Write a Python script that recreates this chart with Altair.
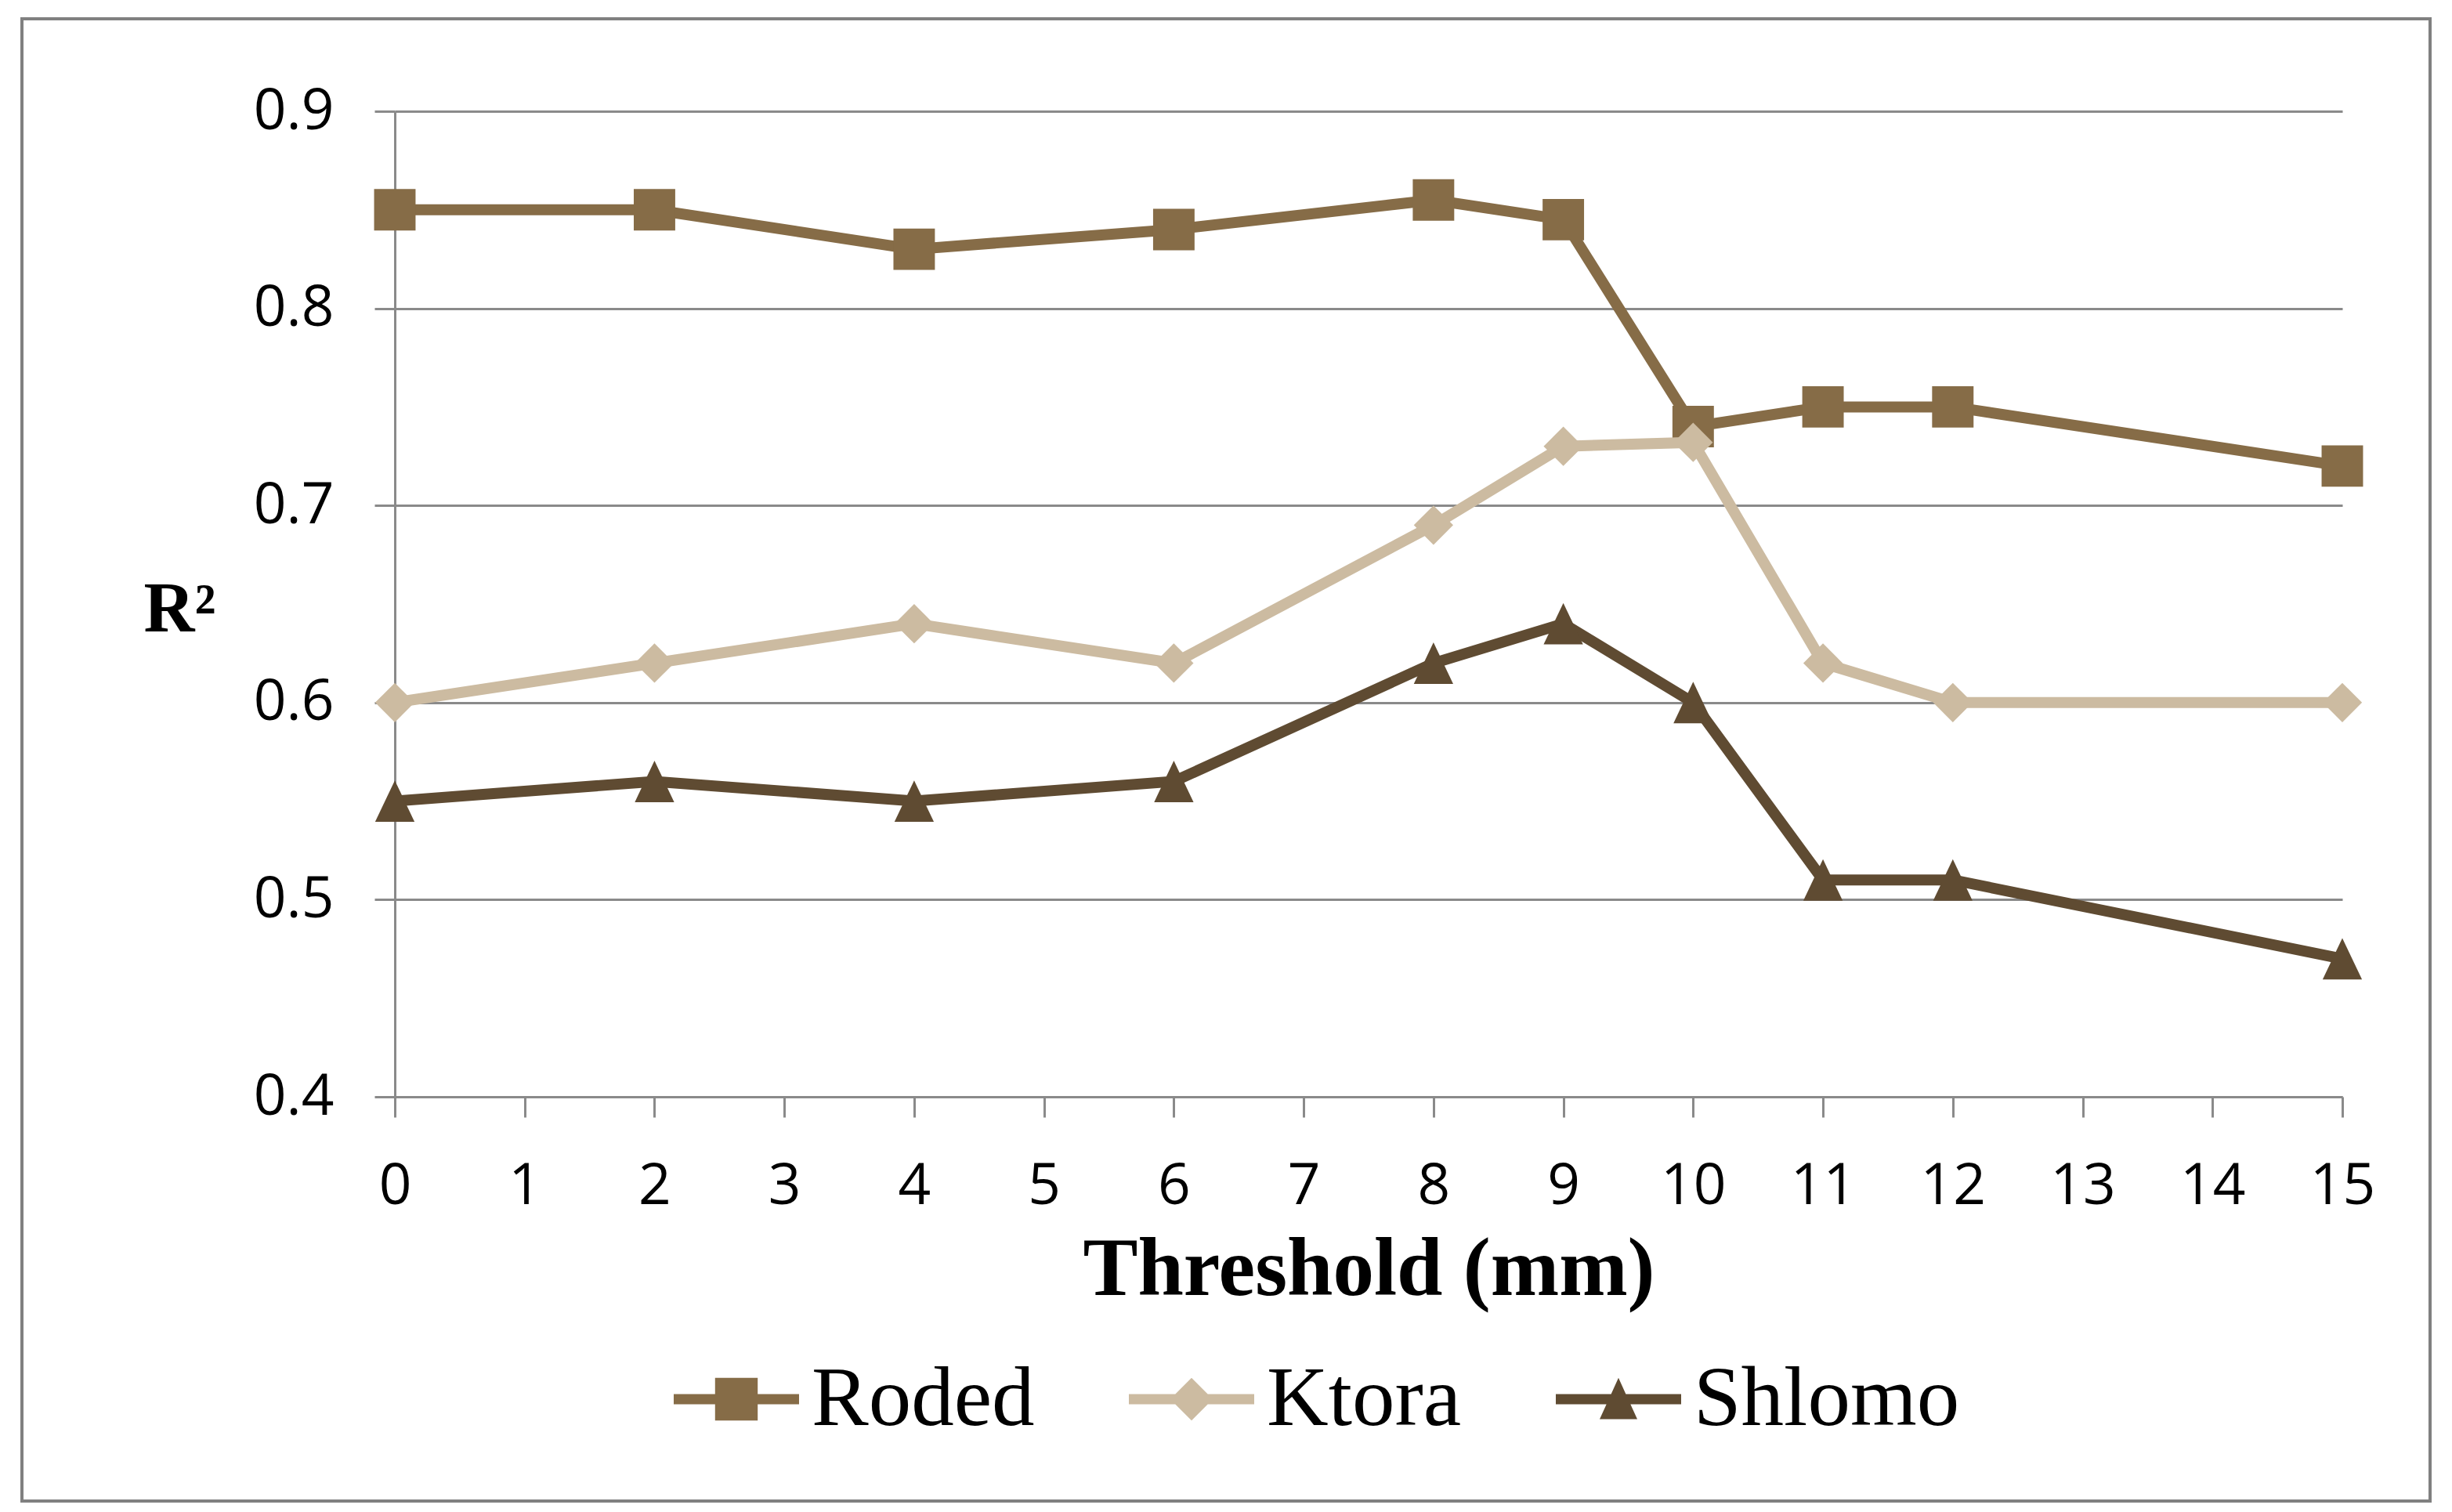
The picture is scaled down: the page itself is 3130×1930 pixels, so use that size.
import altair as alt
import pandas as pd

# ---- data ----
thresholds = [0, 2, 4, 6, 8, 9, 10, 11, 12, 15]
series_names = ["Roded", "Ktora", "Shlomo"]
roded = [0.85, 0.85, 0.83, 0.84, 0.855, 0.845, 0.74, 0.75, 0.75, 0.72]
ktora = [0.60, 0.62, 0.64, 0.62, 0.69, 0.73, 0.732, 0.62, 0.60, 0.60]
shlomo = [0.55, 0.56, 0.55, 0.56, 0.62, 0.64, 0.60, 0.51, 0.51, 0.47]
x_ticks = list(range(16))
y_ticks = [0.4, 0.5, 0.6, 0.7, 0.8, 0.9]
colors = ["#866C47", "#CCBBA1", "#5F4B32"]

# marker shapes (drawn in the plot) and legend shapes (line + marker)
marker_paths = [
    "M-1,-1L1,-1L1,1L-1,1Z",
    "M0,-0.95L0.95,0L0,0.95L-0.95,0Z",
    "M0,-1L0.95,1L-0.95,1Z",
]
legend_paths = [
    "M-1,-0.08L1,-0.08L1,0.08L-1,0.08Z M-0.34,-0.34L0.34,-0.34L0.34,0.34L-0.34,0.34Z",
    "M-1,-0.08L1,-0.08L1,0.08L-1,0.08Z M0,-0.34L0.34,0L0,0.34L-0.34,0Z",
    "M-1,-0.08L1,-0.08L1,0.08L-1,0.08Z M0,-0.34L0.3,0.32L-0.3,0.32Z",
]

rows = []
for name, vals in zip(series_names, [roded, ktora, shlomo]):
    for t, v in zip(thresholds, vals):
        rows.append({"threshold": t, "r2": v, "series": name})
df = pd.DataFrame(rows)

GRAY = "#8a8a8a"
W, H = 2486, 1258

x_enc = alt.X(
    "threshold:Q",
    scale=alt.Scale(domain=[0, 15], nice=False, zero=False),
    axis=alt.Axis(
        values=x_ticks, title="Threshold (mm)", grid=False,
        labelFont="Open Sans", labelFontSize=73, labelColor="#000000",
        labelPadding=52, labelFlush=False, labelOverlap=False,
        tickSize=26, tickWidth=3, tickColor=GRAY,
        domainColor=GRAY, domainWidth=3,
        titleFont="Liberation Serif", titleFontWeight="bold", titleFontSize=105,
        titleColor="#000000", titleBaseline="alphabetic", titleY=252,
    ),
)
y_enc = alt.Y(
    "r2:Q",
    scale=alt.Scale(domain=[0.4, 0.9], nice=False, zero=False),
    axis=alt.Axis(
        values=y_ticks, format=".1f", title="R²", grid=True,
        gridColor=GRAY, gridWidth=3,
        labelFont="Open Sans", labelFontSize=73, labelColor="#000000",
        labelPadding=52, labelFlush=False, labelOverlap=False,
        tickSize=26, tickWidth=3, tickColor=GRAY,
        domainColor=GRAY, domainWidth=3,
        titleFont="Liberation Serif", titleFontWeight="bold", titleFontSize=90,
        titleColor="#000000", titleAngle=0, titleAlign="left",
        titleBaseline="alphabetic", titleX=-321, titleY=663,
    ),
)

layers = []
for name, path, col in zip(series_names, marker_paths, colors):
    layers.append(
        alt.Chart(df)
        .transform_filter(alt.datum.series == name)
        .mark_line(
            strokeWidth=14, color=col,
            point=alt.OverlayMarkDef(shape=path, size=2800, filled=True, opacity=1,
                                     strokeWidth=0, color=col),
        )
        .encode(x=x_enc, y=y_enc)
    )

legend_def = alt.Legend(
    title=None, orient="none", legendX=356, legendY=1564, direction="horizontal",
    symbolSize=25600, symbolStrokeWidth=0, symbolOpacity=1,
    labelFont="Liberation Serif", labelFontSize=109, labelColor="#000000",
    labelOffset=16, labelLimit=1000, columnPadding=120, padding=0,
    labelBaseline="middle",
)
legend_layer = (
    alt.Chart(df)
    .mark_point(opacity=0, filled=True)
    .encode(
        x=x_enc, y=y_enc,
        color=alt.Color("series:N", scale=alt.Scale(domain=series_names, range=colors), legend=legend_def),
        shape=alt.Shape("series:N", scale=alt.Scale(domain=series_names, range=legend_paths), legend=legend_def),
    )
)

border = (
    alt.Chart(pd.DataFrame({"k": [0]}))
    .mark_rect(fillOpacity=0, stroke="#808080", strokeWidth=4)
    .encode(x=alt.value(-476), x2=alt.value(2598), y=alt.value(-118), y2=alt.value(1774))
)

chart = (
    alt.layer(*layers, legend_layer, border)
    .properties(
        width=W, height=H,
        autosize=alt.AutoSizeParams(type="none"),
        padding={"left": 496, "top": 134, "right": 132, "bottom": 522},
        background="#ffffff",
    )
    .configure_view(strokeWidth=0)
)

chart.save("out.html", embed_options={"renderer": "svg", "actions": False})
